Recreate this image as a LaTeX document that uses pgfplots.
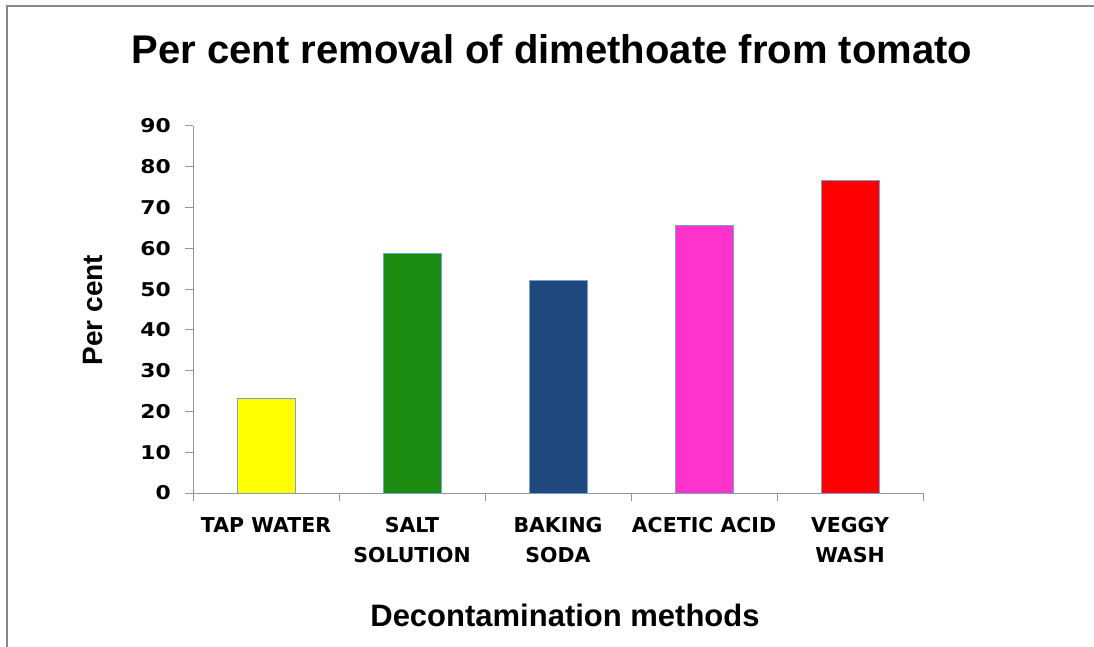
\documentclass[border=0pt]{standalone}
\usepackage{pgfplots}
\pgfplotsset{compat=1.18}
\usepackage{fontspec}
\setmainfont{Liberation Sans}
\newfontfamily\dvs{DejaVu Sans}
\newfontfamily\dvsw[FakeStretch=1.15]{DejaVu Sans}
\definecolor{axgray}{RGB}{150,150,150}
\definecolor{framegray}{RGB}{135,135,135}
\definecolor{edgeblue}{RGB}{120,160,210}
\definecolor{cYellow}{RGB}{255,255,0}
\definecolor{cGreen}{RGB}{28,140,16}
\definecolor{cBlue}{RGB}{31,73,125}
\definecolor{cPink}{RGB}{255,51,204}
\definecolor{cRed}{RGB}{255,0,0}
\begin{document}
\begin{tikzpicture}[x=1pt,y=1pt]
\useasboundingbox (0,0) rectangle (1094,646);
\draw[framegray, line width=2pt] (7,-2) -- (7,640) -- (1094,640);
\node[anchor=base, font=\fontsize{40}{48}\selectfont\bfseries] at (552,582) {Per cent removal of dimethoate from tomato};
\node[anchor=base, font=\fontsize{31}{36}\selectfont\bfseries] at (565,20) {Decontamination methods};
\node[rotate=90, anchor=center, font=\fontsize{28}{32}\selectfont\bfseries] at (93,336) {Per cent};
\begin{axis}[
 at={(193pt,153pt)}, anchor=south west,
 scale only axis, width=730pt, height=367pt,
 xmin=-0.5, xmax=4.5, ymin=0, ymax=90,
 axis x line*=bottom, axis y line*=left,
 axis line style={draw=axgray, line width=1pt, -},
 xtick={-0.5,0.5,1.5,2.5,3.5,4.5},
 xticklabels={},
 x tick style={draw=axgray, line width=1pt},
 extra x ticks={0,1,2,3,4},
 extra x tick labels={TAP WATER, SALT\\SOLUTION, BAKING\\SODA, ACETIC ACID, VEGGY\\WASH},
 extra x tick style={major tick length=0pt, xticklabel style={align=center, font={\dvs\bfseries\fontsize{20.5}{30}\selectfont}, inner sep=0pt, yshift=-24pt}},
 ytick={0,10,...,90},
 y tick style={draw=axgray, line width=1pt},
 tick align=outside, major tick length=8pt,
 yticklabel style={font={\dvsw\bfseries\fontsize{19}{20}\selectfont}, inner sep=0pt, xshift=-14pt},
 /pgf/number format/assume math mode=true,
 clip=false,
]
\addplot[ybar, bar width=58pt, bar shift=0pt, fill=cYellow, draw=edgeblue, line width=0.8pt] coordinates {(0,23.3)};
\addplot[ybar, bar width=58pt, bar shift=0pt, fill=cGreen, draw=edgeblue, line width=0.8pt] coordinates {(1,58.8)};
\addplot[ybar, bar width=58pt, bar shift=0pt, fill=cBlue, draw=edgeblue, line width=0.8pt] coordinates {(2,52.2)};
\addplot[ybar, bar width=58pt, bar shift=0pt, fill=cPink, draw=edgeblue, line width=0.8pt] coordinates {(3,65.6)};
\addplot[ybar, bar width=58pt, bar shift=0pt, fill=cRed, draw=edgeblue, line width=0.8pt] coordinates {(4,76.6)};
\end{axis}
\end{tikzpicture}
\end{document}
